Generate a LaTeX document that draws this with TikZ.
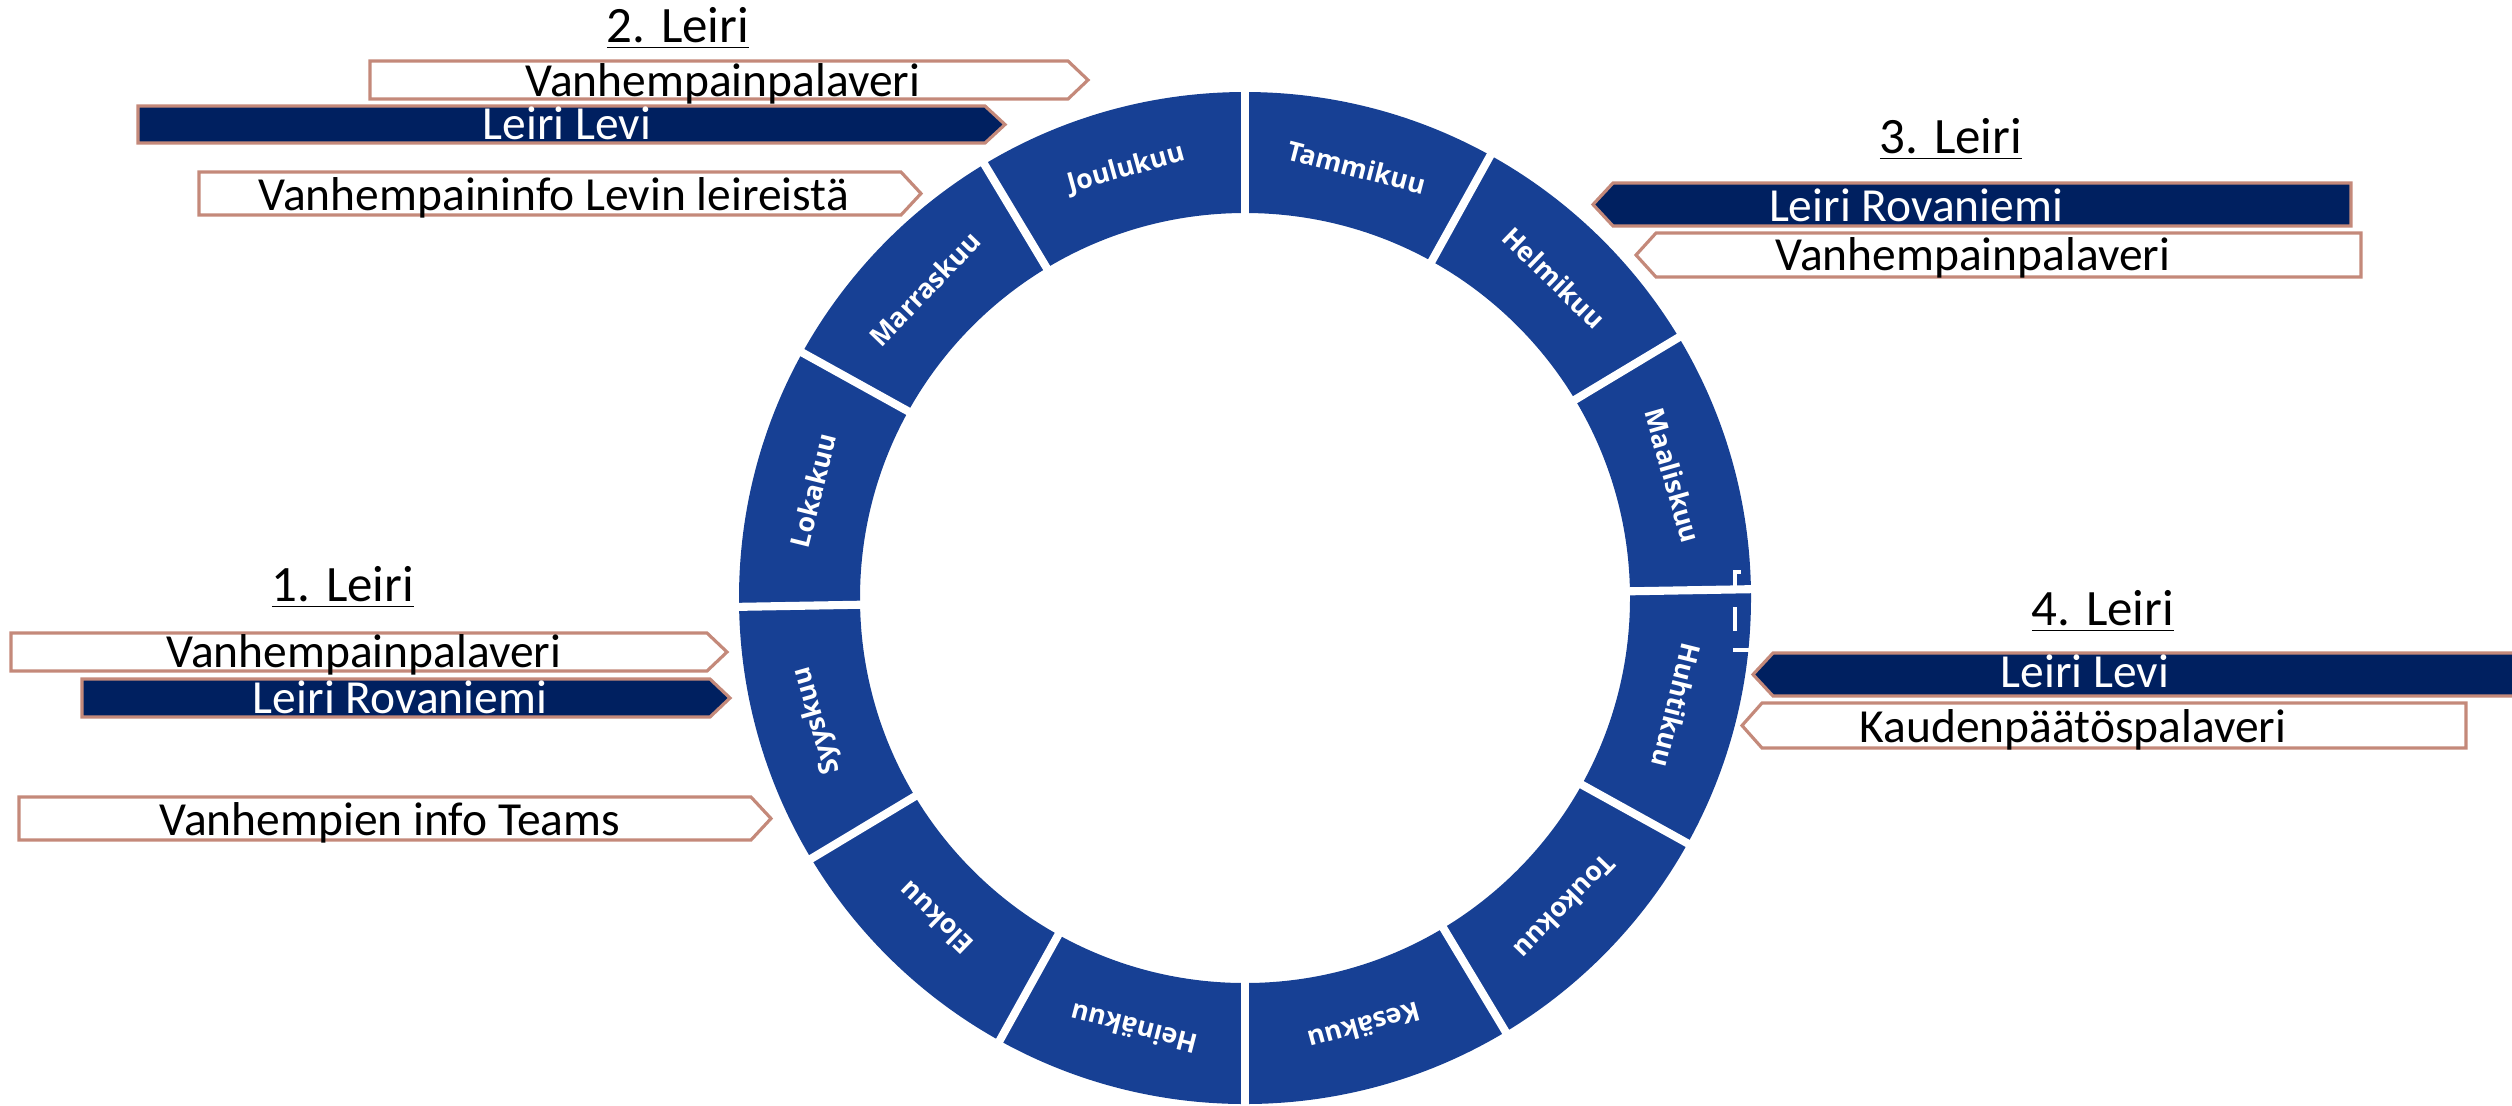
\documentclass[tikz,border=0pt]{standalone}
\usepackage{fontspec}
\setmainfont{Carlito}
\newfontfamily\monthfont{Open Sans}

\definecolor{ringblue}{RGB}{23,64,148}
\definecolor{campnavy}{RGB}{0,32,96}
\definecolor{boxline}{RGB}{196,137,122}

% arrow boxes: style, left, top, right, bottom (pixels, y down)
\newcommand{\boxright}[5]{%
  \draw[#1] (#2,-#3) -- ({#4-20},-#3) -- (#4,{-(#3+#5)/2}) -- ({#4-20},-#5) -- (#2,-#5) -- cycle;}
\newcommand{\boxleft}[5]{%
  \draw[#1] (#2,{-(#3+#5)/2}) -- ({#2+20},-#3) -- (#4,-#3) -- (#4,-#5) -- ({#2+20},-#5) -- cycle;}

\begin{document}
\begin{tikzpicture}
  [x=0.01cm,y=0.01cm,
   event/.style={draw=boxline,line width=0.9pt,fill=white},
   camp/.style={draw=boxline,line width=0.9pt,fill=campnavy},
   eventtext/.style={inner sep=0,anchor=base,font=\fontsize{13.5}{16}\selectfont},
   camptext/.style={eventtext,text=white},
   leiri/.style={inner sep=0,anchor=base,font=\fontsize{14.5}{16}\selectfont},
   month/.style={inner sep=0,text=white,font=\monthfont\bfseries\fontsize{7.6}{9}\selectfont},
   gap/.style={draw=white,line width=2.3pt}]
  \clip (0,0) rectangle (2512,-1105);
  \coordinate (hub) at (1245,-598);

  % vuosikello
  \fill[ringblue,even odd rule] (hub) circle (506) (hub) circle (385);
  \foreach \a in {90,61,31,1,-29,-59,-90,-119,-149,-179,151,121}
    \draw[gap,shift={(hub)}] (\a:375) -- (\a:515);
  \foreach \m/\a [count=\i, evaluate=\a as \r using \a-90] in
    {Tammikuu/75.5, Helmikuu/46, Maaliskuu/16, Huhtikuu/-14, Toukokuu/-44, Kesäkuu/-74.5,
     Heinäkuu/-104.5, Elokuu/-134, Syyskuu/-164, Lokakuu/166, Marraskuu/136, Joulukuu/105.5}
    \node[month,rotate=\r] (m\i) at ([shift={(\a:445)}]hub) {\m};

  \draw[white,line width=1.4pt] (1735,-590) -- (1735,-572) -- (1741,-572);
  \draw[white,line width=1.4pt] (1735,-607) -- (1735,-631);
  \draw[white,line width=1.4pt] (1733,-650) -- (1752,-650);

  % 2. leiri
  \node[leiri] (l2) at (678,-42) {\underline{2. Leiri}};
  \boxright{event}{370}{61}{1088}{99}
  \node[eventtext] (l2a) at (723,-96) {Vanhempainpalaveri};
  \boxright{camp}{138}{106}{1005}{143}
  \node[camptext] (l2b) at (567,-139) {Leiri Levi};
  \boxright{event}{199}{172}{921}{215}
  \node[eventtext] (l2c) at (554,-210) {Vanhempaininfo Levin leireistä};

  % 3. leiri
  \node[leiri] (l3) at (1951,-153) {\underline{3. Leiri}};
  \boxleft{camp}{1593}{183}{2351}{226}
  \node[camptext] (l3a) at (1916,-221) {Leiri Rovaniemi};
  \boxleft{event}{1636}{233}{2361}{277}
  \node[eventtext] (l3b) at (1973,-270) {Vanhempainpalaveri};

  % 1. leiri
  \node[leiri] (l1) at (343,-601) {\underline{1. Leiri}};
  \boxright{event}{11}{633}{727}{671}
  \node[eventtext] (l1a) at (364,-667) {Vanhempainpalaveri};
  \boxright{camp}{82}{679}{730}{717}
  \node[camptext] (l1b) at (400,-713) {Leiri Rovaniemi};
  \boxright{event}{19}{797}{771}{840}
  \node[eventtext] (l1c) at (390,-835) {Vanhempien info Teams};

  % 4. leiri
  \node[leiri] (l4) at (2103,-625) {\underline{4. Leiri}};
  \boxleft{camp}{1753}{653}{2540}{696}
  \node[camptext] (l4a) at (2085,-687) {Leiri Levi};
  \boxleft{event}{1742}{703}{2466}{748}
  \node[eventtext] (l4b) at (2073,-742) {Kaudenpäätöspalaveri};
\end{tikzpicture}
\end{document}
